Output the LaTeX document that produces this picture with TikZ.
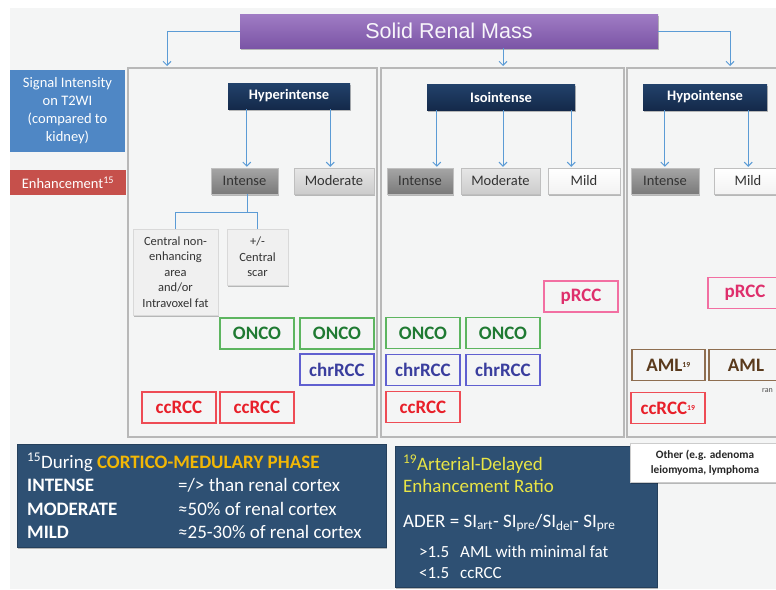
\documentclass[tikz,border=0pt]{standalone}
\usepackage{fontspec}
\setmainfont{Carlito}
\newfontfamily\titlefont{Liberation Sans}
\usetikzlibrary{arrows.meta,shadows}

\definecolor{bggray}{HTML}{F4F5F5}
\definecolor{panelgray}{HTML}{B8B8B8}
\definecolor{arrowblue}{HTML}{5B9BD5}
\definecolor{titleT}{HTML}{A07CC4}
\definecolor{titleB}{HTML}{7B55A6}
\definecolor{sigblue}{HTML}{4F87C5}
\definecolor{enhred}{HTML}{C6504B}
\definecolor{navyT}{HTML}{22426B}
\definecolor{navyB}{HTML}{14294A}
\definecolor{slate}{HTML}{2E5073}
\definecolor{oncoG}{HTML}{5DB560}
\definecolor{oncoT}{HTML}{1F7A32}
\definecolor{chrB}{HTML}{6060D0}
\definecolor{chrT}{HTML}{3A3E9E}
\definecolor{ccR}{HTML}{EE4C55}
\definecolor{ccT}{HTML}{E8202A}
\definecolor{prccP}{HTML}{F26FA2}
\definecolor{prccT}{HTML}{DE2F6C}
\definecolor{amlB}{HTML}{8E6E50}
\definecolor{amlT}{HTML}{5A3A1C}
\definecolor{phaseY}{HTML}{F2B705}
\definecolor{aderY}{HTML}{E9E545}

\tikzstyle{soft shadow}=[drop shadow={shadow xshift=1pt, shadow yshift=-1.5pt, opacity=0.25, fill=black}]
\tikzstyle{arr}=[draw=arrowblue, line width=1pt, -{Straight Barb[length=4pt,width=8pt]}, shorten >=1pt]
\tikzstyle{link}=[draw=arrowblue, line width=1pt]
\tikzstyle{title}=[top color=titleT, bottom color=titleB, text=white!92!titleT, minimum width=418, minimum height=34, inner sep=0, font=\titlefont\fontsize{21.5}{23}\selectfont, soft shadow]
\tikzstyle{rowlabel}=[text=white, inner sep=0, align=center, font=\fontsize{14.5}{18}\selectfont]
\tikzstyle{header}=[top color=navyT, bottom color=navyB, text=white, minimum height=26, inner sep=0, font=\fontsize{14.5}{16}\selectfont\bfseries, soft shadow]
\tikzstyle{grade}=[draw=black!25, text=black!80, minimum height=26, inner sep=0, font=\fontsize{14.5}{16}\selectfont, soft shadow]
\tikzstyle{intensebox}=[top color=black!35, bottom color=black!52]
\tikzstyle{moderatebox}=[top color=black!10, bottom color=black!20]
\tikzstyle{mildbox}=[top color=white, bottom color=black!5]
\tikzstyle{finding}=[fill=black!6, draw=black!15, text=black!80, inner sep=0, align=center, font=\fontsize{12.5}{15.5}\selectfont, soft shadow]
\tikzstyle{oncobox}=[draw=oncoG, text=oncoT]
\tikzstyle{chrbox}=[draw=chrB, text=chrT]
\tikzstyle{ccbox}=[draw=ccR, text=ccT]
\tikzstyle{prccbox}=[draw=prccP, text=prccT]
\tikzstyle{amlbox}=[draw=amlB, text=amlT]
\tikzstyle{notebox}=[fill=slate, draw=slate!80!black, line width=0.8pt, inner sep=0, soft shadow]

\begin{document}
\begin{tikzpicture}[x=1pt,y=-1pt]
    \useasboundingbox (0,0) rectangle (776,589);
    \clip (0,0) rectangle (776,589);
    \fill[white] (0,0) rectangle (776,589);
    \fill[bggray] (10,8) rectangle (776,589);

    % column panels
    \begin{scope}
        \tikzstyle{every node}=[draw=panelgray, line width=1.2pt, minimum height=369, inner sep=0]
        \node[minimum width=249] (colL) at (252.5,252.5) {};
        \node[minimum width=243] (colM) at (502.5,252.5) {};
        \node[minimum width=173] (colR) at (713.5,252.5) {};
    \end{scope}

    % title and row labels
    \node[title] (mass) at (449,31) {Solid Renal Mass};
    \node[rowlabel, fill=sigblue, minimum width=115, minimum height=82] (sig) at (67.5,111) {Signal Intensity\\on T2WI\\(compared to\\kidney)};
    \node[rowlabel, fill=enhred, minimum width=116, minimum height=25] (enh) at (68,182.5) {Enhancement\textsuperscript{15}};

    % T2 signal
    \node[header, minimum width=122] (hyper) at (289,96) {Hyperintense};
    \node[header, minimum width=148] (iso) at (501,97) {Isointense};
    \node[header, minimum width=124] (hypo) at (705,97) {Hypointense};

    % enhancement grades
    \begin{scope}
        \tikzstyle{every node}=[grade]
        \node[intensebox, minimum width=67] (hInt) at (244.5,181) {Intense};
        \node[moderatebox, minimum width=80] (hMod) at (334,181) {Moderate};
        \node[intensebox, minimum width=66] (iInt) at (420,181) {Intense};
        \node[moderatebox, minimum width=79] (iMod) at (500.5,181) {Moderate};
        \node[mildbox, minimum width=72] (iMild) at (584,181) {Mild};
        \node[intensebox, minimum width=68] (oInt) at (665,181) {Intense};
        \node[mildbox, minimum width=68] (oMild) at (748,181) {Mild};
    \end{scope}

    % hyperintense findings
    \node[finding, minimum width=85, minimum height=86] (cen) at (175.5,272) {Central non-\\enhancing\\area\\and/or\\Intravoxel fat};
    \node[finding, minimum width=61, minimum height=56] (scar) at (257.5,257) {+/-\\Central\\scar};

    % diagnoses
    \begin{scope}
        \tikzstyle{every node}=[line width=1.1pt, minimum width=74, minimum height=31, inner sep=0, font=\fontsize{19}{20}\selectfont\bfseries]
        \node[oncobox] (onco1) at (257,333.5) {ONCO};
        \node[oncobox] (onco2) at (337,333.5) {ONCO};
        \node[chrbox] (chr1) at (337,369.5) {chrRCC};
        \node[ccbox] (cc1) at (179,407.5) {ccRCC};
        \node[ccbox] (cc2) at (257,407.5) {ccRCC};
        \node[prccbox] (prcc1) at (581,296.5) {pRCC};
        \node[oncobox] (onco3) at (423,333) {ONCO};
        \node[oncobox] (onco4) at (503,333) {ONCO};
        \node[chrbox] (chr2) at (423,370) {chrRCC};
        \node[chrbox] (chr3) at (503,370) {chrRCC};
        \node[ccbox] (cc3) at (423,407) {ccRCC};
        \node[prccbox] (prcc2) at (745,293) {pRCC};
        \node[amlbox, minimum width=73] (aml1) at (668.5,365) {AML{\fontsize{11}{12}\selectfont\textsuperscript{19}}};
        \node[amlbox] (aml2) at (746,365) {AML};
        \node[ccbox] (cc4) at (668,408) {ccRCC{\fontsize{11}{12}\selectfont\textsuperscript{19}}};
    \end{scope}
    \node[anchor=base west, inner sep=0, text=black!70, font=\fontsize{8}{9}\selectfont] (rare) at (762,392) {ran};

    % connectors
    \coordinate (toL) at (167,67);
    \coordinate (toM) at (503,67);
    \coordinate (toR) at (730,67);
    \coordinate (hA) at ([xshift=19]hyper.south west);
    \coordinate (hB) at ([xshift=-20]hyper.south east);
    \coordinate (iA) at ([xshift=10]iso.south west);
    \coordinate (iB) at ([xshift=2]iso.south);
    \coordinate (iC) at ([xshift=-4]iso.south east);
    \coordinate (oA) at ([xshift=22]hypo.south west);
    \coordinate (oB) at ([xshift=-19]hypo.south east);
    \begin{scope}
        \tikzstyle{every edge}=[arr]
        \path
        (hA) edge (hA |- hInt.north)
        (hB) edge (hB |- hMod.north)
        (iA) edge (iA |- iInt.north)
        (iB) edge (iB |- iMod.north)
        (iC) edge (iC |- iMild.north)
        (oA) edge (oA |- oInt.north)
        (oB) edge (oB |- oMild.north);
    \end{scope}
    \draw[arr] (mass.west) -| (toL);
    \draw[arr] (mass.south -| toM) -- (toM);
    \draw[arr] (mass.east) -| (toR);
    \draw[link] ([xshift=2.5]hInt.south) -- ++(0,18) -| (cen.north);
    \draw[link] ([xshift=2.5]hInt.south) -- ++(0,18) -| (scar.north);

    % footnote 15
    \node[notebox, minimum width=369, minimum height=103] (note15) at (201.5,495.5) {};
    \begin{scope}
        \tikzstyle{every node}=[anchor=base west, inner sep=0, text=white, font=\fontsize{19}{20}\selectfont]
        \node (n15) at (27,468) {\textsuperscript{15}During \textcolor{phaseY}{\bfseries CORTICO-MEDULARY PHASE}};
        \node (intK) at (27,491) {\bfseries INTENSE};
        \node (intV) at (178,491) {=/> than renal cortex};
        \node (modK) at (27,515) {\bfseries MODERATE};
        \node (modV) at (178,515) {≈50\% of renal cortex};
        \node (mildK) at (27,538) {\bfseries MILD};
        \node (mildV) at (178,538) {≈25-30\% of renal cortex};
    \end{scope}

    % footnote 19
    \node[notebox, minimum width=262, minimum height=141] (note19) at (526,516.5) {};
    \begin{scope}
        \tikzstyle{every node}=[anchor=base west, inner sep=0, text=white, font=\fontsize{19}{20}\selectfont]
        \node[text=aderY] (n19) at (403,470) {\textsuperscript{19}Arterial-Delayed};
        \node[text=aderY] (n19b) at (403,492) {Enhancement Ratio};
        \node (ader) at (403,527) {ADER = SI\textsubscript{art}- SI\textsubscript{pre}/SI\textsubscript{del}- SI\textsubscript{pre}};
        \node[font=\fontsize{17}{18}\selectfont] (hiK) at (419,557) {>1.5};
        \node[font=\fontsize{17}{18}\selectfont] (hiV) at (460,557) {AML with minimal fat};
        \node[font=\fontsize{17}{18}\selectfont] (loK) at (419,578) {<1.5};
        \node[font=\fontsize{17}{18}\selectfont] (loV) at (460,578) {ccRCC};
    \end{scope}

    % other lesions
    \node[fill=white, draw=black!20, soft shadow, minimum width=150, minimum height=39, inner sep=0, align=center, text=black!85, font=\fontsize{11.3}{15}\selectfont\bfseries] (other) at (705,462.5) {Other (e.g. adenoma\\leiomyoma, lymphoma};
\end{tikzpicture}
\end{document}
